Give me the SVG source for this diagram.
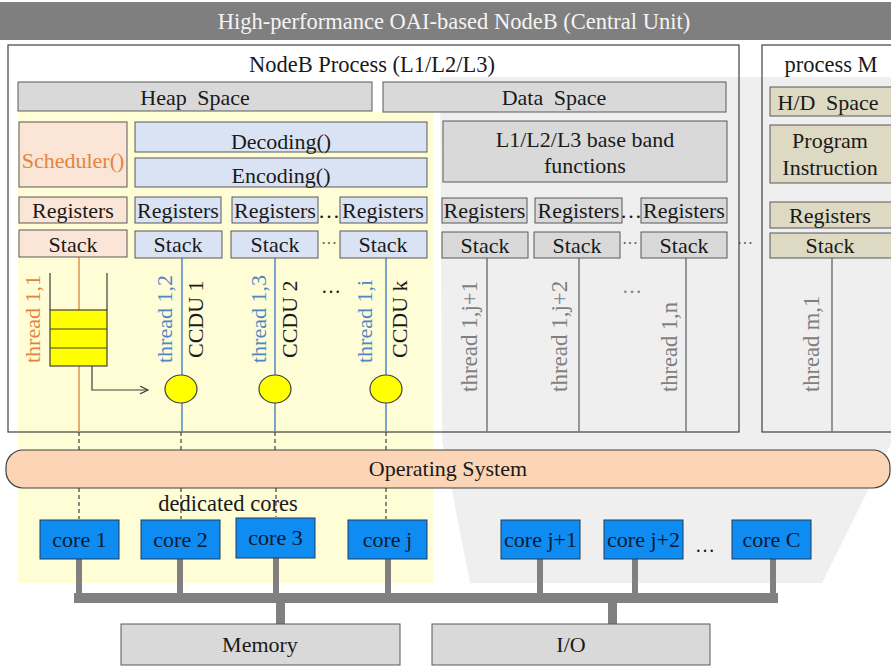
<svg xmlns="http://www.w3.org/2000/svg" width="891" height="669" viewBox="0 0 891 669">
<defs>
<style>
text{font-family:"Liberation Serif","Times New Roman",serif;font-size:22px;fill:#1a1a1a;}
.c{text-anchor:middle;}
.box{stroke:#595959;stroke-width:1;}
.grey{fill:#d9d9d9;}
.blue{fill:#dae3f3;}
.peach{fill:#fbe5d6;}
.tan{fill:#ddd9c3;}
.core{fill:#0f8cf2;stroke:#1f3d5c;stroke-width:1;}
.coretxt{fill:#0c1a2e;}
.or{fill:#e2843f;}
.bl{fill:#4f86c6;}
.gr{fill:#7f7f7f;}
.thO{stroke:#e8955a;stroke-width:1.6;}
.thB{stroke:#5b8fcb;stroke-width:1.6;}
.thG{stroke:#7f7f7f;stroke-width:1.6;}
.dash{stroke:#404040;stroke-width:1.2;stroke-dasharray:4 3;fill:none;}
.bus{fill:#808080;}
.dots{fill:#595959;font-size:16px;}
</style>
<marker id="arr" markerWidth="10" markerHeight="10" refX="8" refY="4" orient="auto" markerUnits="userSpaceOnUse">
<path d="M0,0 L8,4 L0,8" fill="none" stroke="#404040" stroke-width="1.2"/>
</marker>
</defs>
<rect x="0" y="0" width="891" height="669" fill="#ffffff"/>
<!-- background regions -->
<polygon points="440,77 891,77 891,444 822,583 470,583 442,440" fill="#efefef"/>
<rect x="18" y="112" width="415" height="471" fill="#fefdd5"/>
<!-- title -->
<g id="title">
<rect x="0" y="2" width="891" height="38" fill="#7f7f7f"/>
<text x="454" y="29" class="c" style="fill:#f4f4f4;font-size:22.5px">High-performance OAI-based NodeB (Central Unit)</text>
</g>
<!-- process frames -->
<g id="nodeb-process">
<rect x="8" y="45" width="731" height="387" fill="none" stroke="#404040" stroke-width="1.2"/>
<text x="372" y="72" class="c" style="font-size:22.5px">NodeB Process (L1/L2/L3)</text>
</g>
<g id="process-m">
<rect x="762" y="45" width="140" height="387" fill="none" stroke="#404040" stroke-width="1.2"/>
<text x="831" y="72" class="c" style="font-size:22.5px">process M</text>
</g>
<!-- connectors -->
<g id="connectors">
<line class="thO" x1="79" y1="257" x2="79" y2="432"/>
<line class="thB" x1="182" y1="258" x2="182" y2="432"/>
<line class="thB" x1="275" y1="258" x2="275" y2="432"/>
<line class="thB" x1="386" y1="258" x2="386" y2="432"/>
<line class="thG" x1="487" y1="258" x2="487" y2="432"/>
<line class="thG" x1="579" y1="258" x2="579" y2="432"/>
<line class="thG" x1="686" y1="258" x2="686" y2="432"/>
<line class="thG" x1="832" y1="258" x2="832" y2="432"/>
<path class="dash" d="M79,432 V451 M181,432 V451 M275,432 V451 M386,432 V451 M79,488 V519 M181,488 V519 M276,488 V517 M386,488 V519"/>
<path d="M92,366 V390 H148" fill="none" stroke="#404040" stroke-width="1.2" marker-end="url(#arr)"/>
<rect class="bus" x="76" y="559" width="6" height="38"/>
<rect class="bus" x="177" y="559" width="6" height="38"/>
<rect class="bus" x="273" y="558" width="6" height="39"/>
<rect class="bus" x="385" y="559" width="6" height="38"/>
<rect class="bus" x="537" y="559" width="6" height="38"/>
<rect class="bus" x="632" y="559" width="6" height="38"/>
<rect class="bus" x="770" y="559" width="6" height="38"/>
<rect class="bus" x="74" y="593" width="704" height="10"/>
<rect class="bus" x="276" y="603" width="9" height="21"/>
<rect class="bus" x="608" y="603" width="9" height="21"/>
</g>
<!-- spaces -->
<g id="heap-space"><rect class="box grey" x="18" y="82" width="354" height="29"/><text x="195" y="105" class="c" style="word-spacing:5px">Heap Space</text></g>
<g id="data-space"><rect class="box grey" x="383" y="82" width="343" height="30"/><text x="554" y="105" class="c" style="word-spacing:5px">Data Space</text></g>
<g id="hd-space"><rect class="box tan" x="770" y="87" width="125" height="29"/><text x="828" y="110" class="c" style="word-spacing:5px">H/D Space</text></g>
<g id="scheduler"><rect class="box peach" x="19" y="122" width="108" height="65"/><text x="73" y="168" class="c or">Scheduler()</text></g>
<g id="decoding"><rect class="box blue" x="135" y="122" width="292" height="30"/><text x="281" y="149" class="c">Decoding()</text></g>
<g id="encoding"><rect class="box blue" x="135" y="158" width="292" height="29"/><text x="281" y="183" class="c">Encoding()</text></g>
<g id="baseband"><rect class="box grey" x="443" y="121" width="284" height="61"/><text x="585" y="147" class="c">L1/L2/L3 base band</text><text x="585" y="173" class="c">functions</text></g>
<g id="program"><rect class="box tan" x="770" y="125" width="125" height="58"/><text x="830" y="148" class="c">Program</text><text x="830" y="175" class="c">Instruction</text></g>
<!-- registers -->
<g id="reg-1-1"><rect class="box peach" x="19" y="197" width="108" height="26"/><text x="73" y="218" class="c">Registers</text></g>
<g id="reg-1-2"><rect class="box blue" x="135" y="197" width="86" height="26"/><text x="178" y="218" class="c">Registers</text></g>
<g id="reg-1-3"><rect class="box blue" x="232" y="197" width="86" height="26"/><text x="275" y="218" class="c">Registers</text></g>
<g id="reg-1-i"><rect class="box blue" x="340" y="197" width="87" height="26"/><text x="383" y="218" class="c">Registers</text></g>
<g id="reg-1-j1"><rect class="box grey" x="442" y="198" width="85" height="25"/><text x="484.5" y="218" class="c">Registers</text></g>
<g id="reg-1-j2"><rect class="box grey" x="535" y="198" width="87" height="25"/><text x="578.5" y="218" class="c">Registers</text></g>
<g id="reg-1-n"><rect class="box grey" x="641" y="198" width="86" height="25"/><text x="684" y="218" class="c">Registers</text></g>
<g id="reg-m-1"><rect class="box tan" x="770" y="202" width="125" height="26"/><text x="830" y="223" class="c">Registers</text></g>
<text x="329" y="218" class="c">…</text>
<text x="631" y="218" class="c">…</text>
<!-- stacks -->
<g id="stack-1-1"><rect class="box peach" x="19" y="230" width="108" height="27"/><text x="73" y="252" class="c">Stack</text></g>
<g id="stack-1-2"><rect class="box blue" x="135" y="231" width="87" height="27"/><text x="178" y="252" class="c">Stack</text></g>
<g id="stack-1-3"><rect class="box blue" x="231" y="231" width="87" height="27"/><text x="275" y="252" class="c">Stack</text></g>
<g id="stack-1-i"><rect class="box blue" x="340" y="231" width="87" height="27"/><text x="383" y="252" class="c">Stack</text></g>
<g id="stack-1-j1"><rect class="box grey" x="442" y="232" width="86" height="26"/><text x="485" y="253" class="c">Stack</text></g>
<g id="stack-1-j2"><rect class="box grey" x="534" y="232" width="86" height="26"/><text x="577" y="253" class="c">Stack</text></g>
<g id="stack-1-n"><rect class="box grey" x="641" y="232" width="86" height="26"/><text x="684" y="253" class="c">Stack</text></g>
<g id="stack-m-1"><rect class="box tan" x="770" y="233" width="125" height="25"/><text x="830" y="253" class="c">Stack</text></g>
<text x="329" y="249" class="c dots">···</text>
<text x="630" y="249" class="c dots">···</text>
<text x="745" y="249" class="c dots">···</text>
<!-- queue -->
<g id="queue">
<path d="M50,273 V310 M107,273 V310" stroke="#404040" stroke-width="1.2" fill="none"/>
<rect x="50" y="310" width="57" height="56" fill="#ffff00" stroke="#404040" stroke-width="1.2"/>
<path d="M50,329 H107 M50,348 H107" stroke="#404040" stroke-width="1.2"/>
</g>
<!-- CCDU circles -->
<g id="ccdu-1"><ellipse cx="181" cy="389" rx="16" ry="14" fill="#ffff00" stroke="#404040" stroke-width="1.2"/></g>
<g id="ccdu-2"><ellipse cx="275" cy="389" rx="16" ry="14" fill="#ffff00" stroke="#404040" stroke-width="1.2"/></g>
<g id="ccdu-k"><ellipse cx="386" cy="389" rx="16" ry="14" fill="#ffff00" stroke="#404040" stroke-width="1.2"/></g>
<!-- thread labels -->
<text class="or" transform="translate(40,363) rotate(-90)">thread 1,1</text>
<text class="bl" transform="translate(172,363) rotate(-90)">thread 1,2</text>
<text transform="translate(203,358) rotate(-90)">CCDU 1</text>
<text class="bl" transform="translate(266,363) rotate(-90)">thread 1,3</text>
<text transform="translate(297,358) rotate(-90)">CCDU 2</text>
<text class="bl" transform="translate(372,363) rotate(-90)">thread 1,i</text>
<text transform="translate(407,358) rotate(-90)">CCDU k</text>
<text x="331" y="293" class="c" style="font-size:20px">…</text>
<text class="gr" transform="translate(477,392) rotate(-90)" style="font-size:23px">thread 1,j+1</text>
<text class="gr" transform="translate(567,392) rotate(-90)" style="font-size:23px">thread 1,j+2</text>
<text class="gr" transform="translate(677,392) rotate(-90)" style="font-size:22.5px">thread 1,n</text>
<text x="632" y="293" class="c gr" style="font-size:20px">…</text>
<text class="gr" transform="translate(819,392) rotate(-90)" style="font-size:22.5px">thread m,1</text>
<!-- operating system -->
<g id="os"><rect x="6" y="450" width="884" height="38" rx="17" fill="#fbd5b5" stroke="#404040" stroke-width="1.2"/><text x="448" y="476" class="c">Operating System</text></g>
<text x="228" y="511" class="c" style="font-size:22.5px">dedicated cores</text>
<!-- cores -->
<g id="core-1"><rect class="core" x="40" y="520" width="79" height="39"/><text x="79.5" y="547" class="c coretxt">core 1</text></g>
<g id="core-2"><rect class="core" x="141" y="520" width="79" height="39"/><text x="180.5" y="547" class="c coretxt">core 2</text></g>
<g id="core-3"><rect class="core" x="236" y="518" width="79" height="40"/><text x="275.5" y="545" class="c coretxt">core 3</text></g>
<g id="core-j"><rect class="core" x="348" y="520" width="79" height="39"/><text x="387.5" y="547" class="c coretxt">core j</text></g>
<g id="core-j1"><rect class="core" x="501" y="520" width="79" height="39"/><text x="540.5" y="547" class="c coretxt">core j+1</text></g>
<g id="core-j2"><rect class="core" x="604" y="520" width="79" height="39"/><text x="643.5" y="547" class="c coretxt">core j+2</text></g>
<text x="705" y="552" class="c" style="font-size:20px">…</text>
<g id="core-c"><rect class="core" x="732" y="520" width="79" height="39"/><text x="771.5" y="547" class="c coretxt">core C</text></g>
<!-- memory / io -->
<g id="memory"><rect class="box grey" x="121" y="624" width="279" height="41"/><text x="260" y="652" class="c">Memory</text></g>
<g id="io"><rect class="box grey" x="432" y="624" width="278" height="41"/><text x="571" y="652" class="c">I/O</text></g>
</svg>
